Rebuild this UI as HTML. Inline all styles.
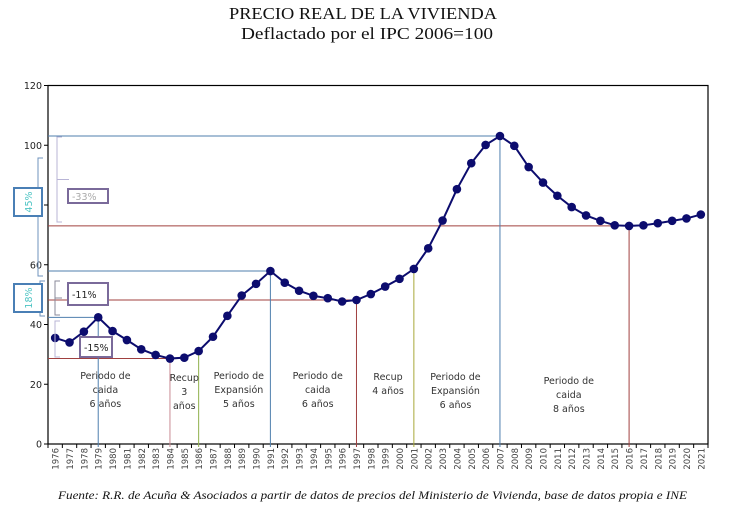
<!DOCTYPE html>
<html><head><meta charset="utf-8"><style>
body{margin:0;background:#fff;width:735px;height:509px;overflow:hidden}
svg{display:block}
</style></head><body>
<svg width="735" height="509" xmlns="http://www.w3.org/2000/svg">
<g id="root"></g>
</svg>
<script>
const years = [];
for (let y = 1976; y <= 2021; y++) years.push(y);
const prices = [35.5,34,37.6,42.4,37.8,34.8,31.7,29.8,28.6,28.9,31.1,35.9,42.9,49.7,53.6,57.9,54,51.3,49.6,48.8,47.7,48.2,50.2,52.7,55.3,58.6,65.5,74.8,85.3,94,100.1,103.1,99.8,92.7,87.5,83.1,79.3,76.5,74.7,73.2,73,73.2,73.9,74.7,75.5,76.8];
const yTicks = [0,20,40,60,80,100,120];
const yTickLabels = ["0","20","40","60","","100","120"];
const markerYears = [1979,1984,1986,1991,1997,2001,2007,2016];
const markerColors = ["#4f7fae","#c98b94","#8fb04a","#4f7fae","#a0403f","#a8a83a","#4f7fae","#a0403f"];
const refLines = [[2007,"#4f7fae"],[2016,"#a0403f"],[1991,"#4f7fae"],[1997,"#a0403f"],[1979,"#4f7fae"],[1984,"#a0403f"]];
const periods = [
 [1979.5,["Periodo de","caida","6 años"],379],
 [1985,["Recup","3","años"],381],
 [1988.8,["Periodo de","Expansión","5 años"],379],
 [1994.3,["Periodo de","caida","6 años"],379],
 [1999.2,["Recup","4 años"],380],
 [2003.9,["Periodo de","Expansión","6 años"],380],
 [2011.8,["Periodo de","caida","8 años"],384]
];
const L=48,R=708,T=85.5,B=444;
const n=years.length, step=(R-L)/n;
const xS=yr=>L+(yr-years[0]+0.5)*step;
const yS=v=>B-(v/120)*(B-T);
const valOf=yr=>prices[years.indexOf(yr)];
const NS="http://www.w3.org/2000/svg";
const root=document.getElementById('root');
function mk(tag,attrs,parent,text){const e=document.createElementNS(NS,tag);for(const k in attrs)e.setAttribute(k,attrs[k]);if(text!==undefined)e.textContent=text;(parent||root).appendChild(e);return e;}
// title
let t=mk('text',{x:229,y:19,textLength:268,lengthAdjust:'spacingAndGlyphs','font-family':'Liberation Serif, serif','font-size':'16.5',fill:'#111'},root,'PRECIO REAL DE LA VIVIENDA');


t=mk('text',{x:241,y:39,textLength:252,lengthAdjust:'spacingAndGlyphs','font-family':'Liberation Serif, serif','font-size':'16.5',fill:'#111'},root,'Deflactado por el IPC 2006=100');


// plot frame
let fr=mk('rect',{x:L,y:T,width:R-L,height:B-T,fill:'none',stroke:'#000','stroke-width':1.2});


// y ticks
yTicks.forEach((v,i)=>{
 const y=yS(v);
 const tk=mk('line',{x1:L-4,x2:L,y1:y,y2:y,stroke:'#000'});
 
 
 if(yTickLabels[i]){const lb=mk('text',{x:L-6,y:y+3.5,'text-anchor':'end','font-family':'DejaVu Sans, sans-serif','font-size':'9.5',fill:'#222'},root,yTickLabels[i]);
 
 }
});
// x ticks and labels
for(let i=0;i<=n;i++){const x=L+i*step;const tk=mk('line',{x1:x,x2:x,y1:B,y2:B+4,stroke:'#000'});
 
 }
years.forEach(yr=>{const x=xS(yr);const lb=mk('text',{x:0,y:0,transform:`translate(${x+3.5},448) rotate(-90)`,'text-anchor':'end','font-family':'DejaVu Sans, sans-serif','font-size':'8.5',fill:'#444'},root,String(yr));
 
 });
// horizontal ref lines
refLines.forEach(([yr,c])=>{const y=yS(valOf(yr));const ln=mk('line',{x1:L,x2:xS(yr),y1:y,y2:y,stroke:c,'stroke-width':1});
 
 });
// vertical markers
markerYears.forEach((yr,i)=>{const x=xS(yr);const ln=mk('line',{x1:x,x2:x,y1:yS(valOf(yr)),y2:B+3,stroke:markerColors[i],'stroke-width':1});
 
 });
// period labels
periods.forEach(([yr,lines,y0])=>{const g=mk('g',{});
 
 
 lines.forEach((s,j)=>mk('text',{x:xS(yr),y:y0+j*14,'text-anchor':'middle','font-family':'DejaVu Sans, sans-serif','font-size':'9.5',fill:'#333'},g,s));});
// series line
const pts=years.map((yr,i)=>xS(yr)+','+yS(prices[i])).join(' ');
const pl=mk('polyline',{points:pts,fill:'none',stroke:'#0c0c6e','stroke-width':2});


years.forEach((yr,i)=>{const c=mk('circle',{cx:xS(yr),cy:yS(prices[i]),r:4.3,fill:'#0c0c6e'});
 
 });
// brackets and annotation boxes
function bracket(x,y1,y2,c,name,mid){const g=mk('g',{fill:'none',stroke:c,'stroke-width':1});
 
 
 mk('path',{d:`M${x+5},${y1} L${x},${y1} L${x},${y2} L${x+5},${y2}`},g);
 if(mid)mk('line',{x1:x,x2:mid,y1:(y1+y2)/2,y2:(y1+y2)/2},g);}
bracket(57,137,222,'#b8b4d6','bracket-33',69);
bracket(38,158,276,'#6f93bd','bracket-45');
bracket(40,281,316,'#6f93bd','bracket-18');
bracket(55,281,315,'#8a8a9a','bracket-11',62);
bracket(55,321,357,'#b8b4d6','bracket-15');
function box(x,y,w,h,stroke,txt,col,name,rot){const g=mk('g',{});
 
 
 mk('rect',{x:x,y:y,width:w,height:h,fill:'#fff',stroke:stroke,'stroke-width':2},g);
 if(rot)mk('text',{x:0,y:0,transform:`translate(${x+w/2+4},${y+h/2}) rotate(-90)`,'text-anchor':'middle','font-family':'DejaVu Sans, sans-serif','font-size':'9.5',fill:col},g,txt);
 else mk('text',{x:x+4,y:y+h/2+4,'font-family':'DejaVu Sans, sans-serif','font-size':'9.5',fill:col},g,txt);}
box(68,189,40,14,'#7a6a9a','-33%','#aaa','annotation-33');
box(14,188,28,28,'#4a7fb5','45%','#4cc3c3','annotation-45',true);
box(14,284,28,28,'#4a7fb5','18%','#4cc3c3','annotation-18',true);
box(68,283,40,22,'#7a6a9a','-11%','#222','annotation-11');
box(80,337,32,20,'#7a6a9a','-15%','#222','annotation-15');
// footer
t=mk('text',{x:58,y:499,textLength:629,lengthAdjust:'spacingAndGlyphs','font-family':'Liberation Serif, serif','font-size':'11.5','font-style':'italic',fill:'#111'},root,'Fuente: R.R. de Acuña & Asociados  a partir de datos de precios del Ministerio de Vivienda, base de datos propia e  INE');


</script>
</body></html>
